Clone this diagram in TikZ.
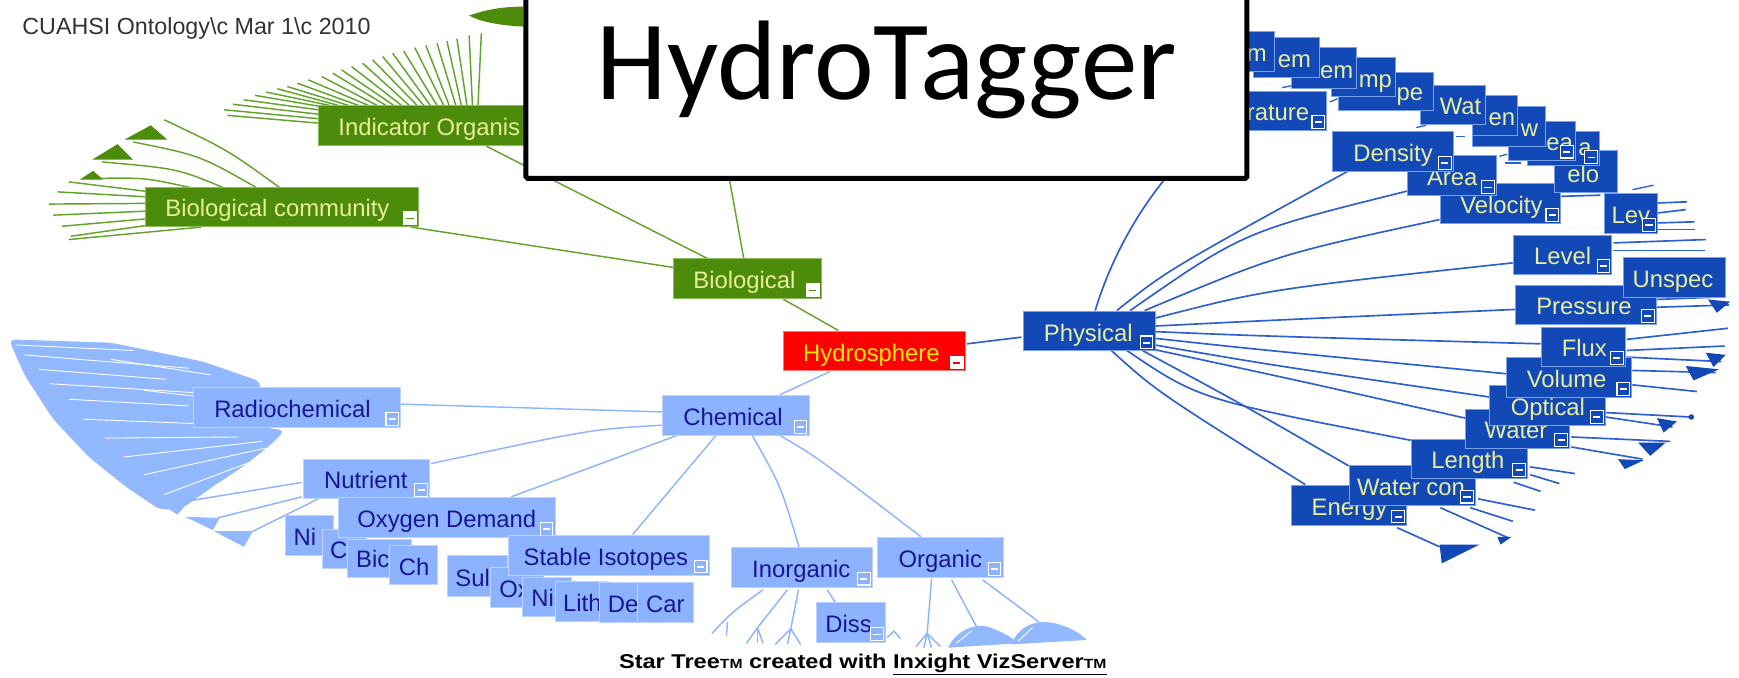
\documentclass[tikz,border=0pt]{standalone}
\usepackage{fontspec}
\usepackage{graphicx}
\setmainfont{Liberation Sans}
\newfontfamily\htfont{Carlito}
\usetikzlibrary{calc}
\pgfdeclarelayer{bg}
\pgfsetlayers{bg,main}
\definecolor{gfill}{RGB}{76,140,10}
\definecolor{gbord}{RGB}{140,190,90}
\definecolor{gline}{RGB}{98,163,42}
\definecolor{dfill}{RGB}{18,73,182}
\definecolor{dbord}{RGB}{120,160,235}
\definecolor{dline}{RGB}{45,95,205}
\definecolor{lfill}{RGB}{141,179,255}
\definecolor{lbord}{RGB}{190,210,255}
\definecolor{lline}{RGB}{140,180,255}
\definecolor{lblob}{RGB}{146,184,255}
\definecolor{ltext}{RGB}{22,22,150}
\definecolor{ytext}{RGB}{232,238,155}
\definecolor{hred}{RGB}{255,0,0}
\definecolor{rbord}{RGB}{255,120,120}
\definecolor{htext}{RGB}{255,236,0}
\newcommand{\labf}{\fontsize{21.5}{21.5}\selectfont}
\newcommand{\hdrf}{\fontsize{21}{21}\selectfont}
\tikzset{
  gbox/.style={rectangle, fill=gfill, draw=gbord, line width=0.8pt, inner sep=0pt},
  rbox/.style={rectangle, fill=hred, draw=rbord, line width=0.8pt, inner sep=0pt},
  dbox/.style={rectangle, fill=dfill, draw=dbord, line width=0.8pt, inner sep=0pt},
  lbox/.style={rectangle, fill=lfill, draw=lbord, line width=0.8pt, inner sep=0pt},
  gtxt/.style={text=ytext, font=\labf, inner sep=0pt},
  rtxt/.style={text=htext, font=\labf, inner sep=0pt},
  dtxt/.style={text=ytext, font=\labf, inner sep=0pt},
  ltxt/.style={text=ltext, font=\labf, inner sep=0pt},
  gminus/.style={fill=white, draw=white, line width=0.8pt},
  gdash/.style={draw=gfill, line width=1.6pt},
  rminus/.style={fill=white, draw=white, line width=0.8pt},
  rdash/.style={draw=hred, line width=1.6pt},
  dminus/.style={fill=dfill, draw=white, line width=1pt},
  ddash/.style={draw=white, line width=1.6pt},
  lminus/.style={fill=lfill, draw=white, line width=1pt},
  ldash/.style={draw=white, line width=1.6pt},
  gl/.style={draw=gline, line width=1.3pt},
  dl/.style={draw=dline, line width=1.5pt},
  ll/.style={draw=lline, line width=1.3pt},
  streak/.style={draw=white, line width=0.8pt},
}
% name, kind, x1, y1, x2, y2, text, text offset, minus flag
\newcommand{\tagbox}[9]{%
  \node[#2box, anchor=north west, minimum width={(#5)-(#3)}, minimum height={(#6)-(#4)}] (#1) at (#3,#4) {};
  \begin{scope}
    \clip (#3,#4) rectangle (#5,#6);
    \node[#2txt, anchor=base west] (#1-t) at ({#3+#8},{#6-8.5}) {#7};
  \end{scope}
  \ifnum#9=1\relax
    \draw[#2minus] ({#5-13},{#6-13}) rectangle ({#5-1.5},{#6-1.5});
    \draw[#2dash] ({#5-10.5},{#6-7}) -- ({#5-4},{#6-7});
  \fi
}
\begin{document}
\begin{tikzpicture}[x=1pt,y=-1pt]
\useasboundingbox (0,0) rectangle (1568,611);
\begin{pgfonlayer}{bg}
\fill[white] (0,0) rectangle (1568,611);
\end{pgfonlayer}

% ---------------- boxes ----------------
\tagbox{ind}{g}{287}{95}{517}{131}{Indicator Organis}{18}{1}
\tagbox{bcom}{g}{131}{169}{377}{204}{Biological community}{18}{1}
\tagbox{bio}{g}{607}{233}{740}{269}{Biological}{18}{1}
\tagbox{hydro}{r}{706}{298}{870}{334}{Hydrosphere}{18}{1}
\tagbox{phys}{d}{922}{280}{1041}{316}{Physical}{19}{1}

\tagbox{chem}{l}{597}{356}{729}{392}{Chemical}{19}{1}
\tagbox{radio}{l}{174}{349}{361}{385}{Radiochemical}{19}{1}
\tagbox{nutr}{l}{273}{414}{387}{449}{Nutrient}{19}{1}
\tagbox{ni1}{l}{257}{464}{300}{500}{Ni}{7.5}{0}
\tagbox{c1}{l}{290}{477}{330}{512}{C}{7.5}{0}
\tagbox{bic}{l}{313}{486}{371}{520}{Bic}{8}{0}
\tagbox{ch}{l}{351}{491}{394}{527}{Ch}{8.5}{0}
\tagbox{oxd}{l}{305}{448}{500}{484}{Oxygen Demand}{17}{1}
\tagbox{sul}{l}{403}{500}{457}{537}{Sul}{7.5}{0}
\tagbox{ox}{l}{442}{511}{490}{547}{Ox}{8}{0}
\tagbox{stab}{l}{458}{482}{639}{518}{Stable Isotopes}{14}{1}
\tagbox{ni2}{l}{471}{520}{515}{555}{Ni}{8}{0}
\tagbox{lith}{l}{500}{524}{548}{560}{Lith}{7.5}{0}
\tagbox{de}{l}{540}{525}{580}{561}{De}{8}{0}
\tagbox{car}{l}{574}{525}{625}{561}{Car}{8.4}{0}
\tagbox{inorg}{l}{659}{493}{786}{529}{Inorganic}{19}{1}
\tagbox{org}{l}{791}{484}{904}{520}{Organic}{19}{1}
\tagbox{diss}{l}{736}{543}{798}{579}{Diss}{8}{1}

\tagbox{energy}{d}{1164}{437}{1268}{473}{Energy}{18.5}{1}
\tagbox{wcon}{d}{1216}{419}{1330}{455}{Water con}{7.5}{1}
\tagbox{length}{d}{1272}{396}{1377}{431}{Length}{18.5}{1}
\tagbox{water}{d}{1321}{369}{1415}{404}{Water}{17.5}{1}
\tagbox{optical}{d}{1343}{347}{1447}{383}{Optical}{19}{1}
\tagbox{volume}{d}{1358}{322}{1471}{358}{Volume}{18.5}{1}
\tagbox{flux}{d}{1389}{295}{1465}{330}{Flux}{19}{1}
\tagbox{pressure}{d}{1366}{257}{1493}{292}{Pressure}{19}{1}
\tagbox{unspec}{d}{1463}{232}{1555}{268}{Unspec}{8.8}{0}
\tagbox{level}{d}{1364}{212}{1453}{247}{Level}{19}{1}
\tagbox{lev}{d}{1446}{174}{1494}{210}{Lev}{7}{1}
\tagbox{velocity}{d}{1298}{165}{1407}{201}{Velocity}{18.5}{1}
\tagbox{area}{d}{1269}{140}{1349}{176}{Area}{17.5}{1}
\tagbox{density}{d}{1201}{118}{1310}{154}{Density}{19}{1}
\tagbox{rature}{d}{1100}{82}{1196}{117}{rature}{24}{1}
\tagbox{pelo}{d}{1401}{135}{1458}{173}{elo}{12}{0}
\tagbox{atop}{d}{1377}{118}{1442}{149}{a}{46}{1}
\tagbox{areao}{d}{1360}{109}{1420}{144}{ea}{34}{1}
\tagbox{wbox}{d}{1327}{96}{1393}{132}{w}{44}{0}
\tagbox{enbox}{d}{1327}{86}{1368}{122}{en}{15}{0}
\tagbox{wat}{d}{1280}{77}{1339}{112}{Wat}{18}{0}
\tagbox{tempe}{d}{1206}{65}{1292}{99}{pe}{53}{0}
\tagbox{mp}{d}{1200}{51}{1258}{87}{mp}{25}{0}
\tagbox{em2}{d}{1164}{42}{1223}{79}{em}{26}{0}
\tagbox{em1}{d}{1130}{33}{1189}{69}{em}{22}{0}
\tagbox{mbox}{d}{1100}{28}{1149}{64}{m}{24}{0}

% ---------------- connectors (behind) ----------------
\begin{pgfonlayer}{bg}
% green
\coordinate (bioH) at (643,80);
\draw[gl] (bio) -- (hydro);
\draw[gl] (bio) -- (bcom);
\draw[gl] (bio) -- (ind);
\draw[gl] (bio) -- (bioH);
\foreach \a/\b/\c/\d in {434/30/431/95, 423/32/426/95, 412/35/421/95, 403/37/416/95,
  394/39/411/95, 384/41/405/95, 374/43/400/95, 364/46/394/95, 354/48/388/95,
  345/51/382/95, 336/54/376/95, 327/57/369/95, 317/60/362/95, 308/63/355/95,
  300/66/348/95, 290/69/340/95, 278/72/332/95, 268/75/323/95, 259/78/314/95,
  250/80/305/95, 240/83/297/95, 230/86/289/96, 220/90/287/99, 210/94/287/103,
  202/99/287/107, 205/104/287/111}
  \draw[gl] (\a,\b) -- (\c,\d);
\draw[gl] ($(bcom.north west)+(121,0)$) .. controls (205,135) .. (148,108);
\draw[gl] ($(bcom.north west)+(100,0)$) .. controls (180,140) .. (120,128);
\draw[gl] ($(bcom.north west)+(70,0)$) .. controls (160,152) .. (92,146);
\draw[gl] ($(bcom.north west)+(40,0)$) .. controls (130,160) .. (82,161);
\foreach \a/\b/\c in {62/164/-14.5, 52/173/-9.5, 44/184/-3.5, 48/194/3.5, 56/204/10.5, 64/213/16.5}
  \draw[gl] (\a,\b) -- ($(bcom.west)+(0,\c)$);
\draw[gl] (62,216) -- ($(bcom.south west)+(50,0)$);
\fill[gfill] (112,126) -- (136,113) -- (151,126) -- cycle;
\fill[gfill] (83,144) -- (106,130) -- (120,144) -- cycle;
\fill[gfill] (72,162) -- (84,154) -- (93,162) -- cycle;
\fill[gfill] (423,14) .. controls (440,8) and (455,6) .. (472,6) -- (472,24) .. controls (455,23) and (436,21) .. (423,14) -- cycle;

% red / physical
\draw[dl] ($(hydro.north east)+(1,12)$) -- ($(phys.north west)+(-1,24)$);
\draw[ll] (hydro) -- (chem);

% physical fan
\coordinate (physH) at (1060,150);
\draw[dl] ($(phys.north west)+(65.5,0)$) .. controls (998,245) and (1020,195) .. (physH);
\draw[dl] ($(phys.north west)+(85,0)$) .. controls (1052,244) .. ($(density.north west)+(15,36)$);
\draw[dl] ($(phys.north west)+(97,0)$) .. controls (1121,209) .. ($(area.north west)+(1,32)$);
\draw[dl] ($(phys.north west)+(110,0)$) .. controls (1154,229) .. ($(velocity.north west)+(0,33)$);
\draw[dl] ($(phys.north west)+(119,7)$) .. controls (1142,261) .. ($(level.north west)+(0,25)$);
\draw[dl] ($(phys.north west)+(119,14)$) .. controls (1141,289) .. ($(pressure.north west)+(0,22)$);
\draw[dl] ($(phys.north west)+(119,19)$) .. controls (1137,303) .. ($(flux.north west)+(0,15)$);
\draw[dl] ($(phys.north west)+(119,25)$) .. controls (1123,314) .. ($(volume.north west)+(0,15)$);
\draw[dl] ($(phys.north west)+(119,31)$) .. controls (1145,329) .. ($(optical.north west)+(0,11)$);
\draw[dl] ($(phys.north west)+(118,35)$) .. controls (1170,343) .. ($(water.north west)+(0,8)$);
\draw[dl] ($(phys.north west)+(94,36)$) .. controls (1081,360) .. ($(length.north west)+(0,1)$);
\draw[dl] ($(phys.north west)+(108,36)$) .. controls (1119,364) .. ($(wcon.north west)+(0,1)$);
\draw[dl] ($(phys.north west)+(80,36)$) .. controls (1043,353) .. ($(energy.north west)+(13,0)$);

% right leaves
\draw[dl] ($(level.north east)+(1,7)$) -- (1538,216);
\draw[dl] ($(level.north east)+(1,14)$) -- (1537,226);
\draw[dl] ($(lev.north east)+(0,9)$) -- (1521,182);
\draw[dl] ($(lev.north east)+(0,18)$) -- (1520,189);
\draw[dl] ($(lev.north east)+(0,27)$) -- (1528,200);
\draw[dl] ($(lev.north east)+(0,33)$) -- (1528,207);
\draw[dl] ($(velocity.north east)+(0,12)$) -- (1443,176);
\draw[dl] ($(pressure.north east)+(0,13)$) -- (1545,268);
\draw[dl] ($(pressure.north east)+(0,20)$) -- (1559,275);
\draw[dl] ($(flux.north east)+(1,11)$) -- (1558,296);
\draw[dl] ($(flux.north east)+(1,21)$) -- (1555,312);
\draw[dl] ($(flux.north east)+(1,27)$) -- (1552,326);
\draw[dl] ($(volume.north east)+(0,12)$) -- (1547,336);
\draw[dl] ($(volume.north east)+(0,25)$) -- (1530,353);
\draw[dl] ($(optical.north east)+(0,25)$) -- (1524,376);
\draw[dl] ($(optical.north east)+(0,29)$) -- (1508,385);
\draw[dl] ($(water.north east)+(1,25)$) -- (1506,398);
\draw[dl] ($(water.north east)+(1,34)$) -- (1481,414);
\draw[dl] ($(length.north east)+(2,25)$) -- (1420,427);
\draw[dl] ($(length.north east)+(2,32)$) -- (1406,436);
\draw[dl] ($(length.south east)+(-13,3)$) -- (1389,443);
\draw[dl] ($(wcon.south east)+(2,-6)$) -- (1384,460);
\draw[dl] ($(wcon.south east)+(-5,2)$) -- (1364,470);
\draw[dl] ($(wcon.south east)+(-32,2)$) -- (1360,485);
\draw[dl] ($(energy.south east)+(-9,2)$) -- (1298,493);
\fill[dfill] (1540,270) -- (1560,272) -- (1548,282) -- cycle;
\fill[dfill] (1538,318) -- (1556,320) -- (1545,331) -- cycle;
\fill[dfill] (1520,330) -- (1550,333) -- (1527,343) -- cycle;
\fill[dfill] (1494,377) -- (1512,380) -- (1500,390) -- cycle;
\fill[dfill] (1525,376) circle (2.5);
\fill[dfill] (1477,399) -- (1502,399) -- (1488,411) -- cycle;
\fill[dfill] (1459,414) -- (1482,415) -- (1465,423) -- cycle;
\fill[dfill] (1298,491) -- (1334,491) -- (1300,508) -- cycle;
\fill[dfill] (1350,484) -- (1363,484) -- (1353,491) -- cycle;
\foreach \a/\b/\c/\d in {1132/70/1149/68, 1156/79/1166/77, 1199/92/1206/89,
  1277/115/1286/113, 1313/123/1321/123, 1352/141/1359/139, 1357/147/1371/147, 1472/171/1491/167}
  \draw[dl, line width=1.2pt] (\a,\b) -- (\c,\d);

% chemical
\draw[ll] ($(chem.west)+(0,-3)$) -- ($(radio.east)+(0,-3)$);
\draw[ll] ($(chem.west)+(0,9)$) .. controls (533,387) .. ($(nutr.north east)+(1,4)$);
\draw[ll] ($(chem.south west)+(13,0)$) -- ($(oxd.north east)+(-40,0)$);
\draw[ll] ($(chem.south)+(-18,0)$) -- ($(stab.north)+(21.5,0)$);
\draw[ll] ($(chem.south)+(15,0)$) .. controls (704,438) .. ($(inorg.north)+(-2.5,0)$);
\draw[ll] ($(chem.south)+(40,0)$) .. controls (735,411) .. ($(org.north)+(-17.5,0)$);

% radiochemical blob
\fill[lblob, rounded corners=6pt] (8,306) -- (100,309) -- (183,326) -- (235,344) -- (235,385)
  -- (257,388) -- (243,402) -- (220,420) -- (190,440) -- (165,458) -- (145,460)
  -- (115,440) -- (80,412) -- (48,378) -- (22,338) -- cycle;
\foreach \a/\b/\c/\d in {14/311/120/316, 22/320/170/332, 35/333/150/342, 45/346/175/354,
  62/360/170/366, 75/378/178/382, 95/395/215/394, 112/412/236/398, 130/428/240/404,
  148/446/246/409, 100/324/190/338, 130/352/200/360}
  \draw[streak] (\a,\b) -- (\c,\d);

% nutrient children
\coordinate (nt1) at (168,452);
\coordinate (nt2) at (196,467);
\coordinate (nt3) at (226,480);
\draw[ll] ($(nutr.north west)+(-1,21)$) -- (nt1);
\draw[ll] ($(nutr.north west)+(-1,34)$) -- (nt2);
\draw[ll] ($(nutr.south west)+(14,0)$) -- (nt3);
\fill[lblob] (137,449) -- (171,451) -- (160,464) -- cycle;
\fill[lblob] (167,466) -- (198,467) -- (192,478) -- cycle;
\fill[lblob] (193,479) -- (228,479) -- (220,493) -- cycle;

% inorganic children
\draw[ll] ($(inorg.south west)+(29,2)$) .. controls (660,552) .. (642,571);
\draw[ll] ($(inorg.south west)+(51,2)$) -- (683,566);
\draw[ll] ($(inorg.south west)+(61,2)$) -- (713,567);
\draw[ll] ($(inorg.south west)+(87,2)$) -- ($(diss.north west)+(17,0)$);
\draw[ll] (656,561) -- (655,573);
\draw[ll] (683,566) -- (673,580); \draw[ll] (683,566) -- (683,580); \draw[ll] (683,566) -- (688,580);
\draw[ll] (713,567) -- (699,581); \draw[ll] (713,567) -- (710,581); \draw[ll] (713,567) -- (722,581);
\draw[ll] (800,575) -- (806,569) -- (812,576);

% organic children
\draw[ll] ($(org.south west)+(49,1)$) -- (836,571);
\draw[ll] (836,571) -- (826,583); \draw[ll] (836,571) -- (833,584);
\draw[ll] (836,571) -- (840,584); \draw[ll] (836,571) -- (848,583);
\draw[ll] ($(org.south west)+(67,2)$) -- (881,566);
\draw[ll] ($(org.south west)+(95,2)$) -- (937,561);
\fill[lblob] (855,584) .. controls (862,568) and (880,562) .. (890,565) .. controls (900,568) and (912,574) .. (918,580) -- cycle;
\fill[lblob] (912,581) .. controls (918,566) and (930,560) .. (945,561) .. controls (960,563) and (972,569) .. (980,577) -- cycle;
\draw[streak] (862,580) -- (876,569);
\draw[streak] (918,578) -- (931,566);
\end{pgfonlayer}

% ---------------- title & texts ----------------
\node[draw=black, line width=4.5pt, fill=white, rounded corners=1.5pt, inner sep=0pt,
  minimum width=650pt, minimum height=200pt, anchor=south west] (title) at (472,163) {};
\node[font=\htfont\fontsize{102}{102}\selectfont, anchor=base, inner sep=0pt] (titletext) at (799.5,90) {HydroTagger};

\node[font=\hdrf, text=black!80, anchor=base west, inner sep=0pt] (hdr) at (20,31)
  {CUAHSI Ontology\textbackslash c Mar 1\textbackslash c 2010};

\node[anchor=base west, inner sep=0pt] (credit) at (558,603)
  {\scalebox{1.18}[1]{\fontsize{18}{18}\selectfont\bfseries Star Tree{\fontsize{12}{12}\selectfont TM} created with \underline{Inxight VizServer{\fontsize{12}{12}\selectfont TM}}}};
\end{tikzpicture}
\end{document}
